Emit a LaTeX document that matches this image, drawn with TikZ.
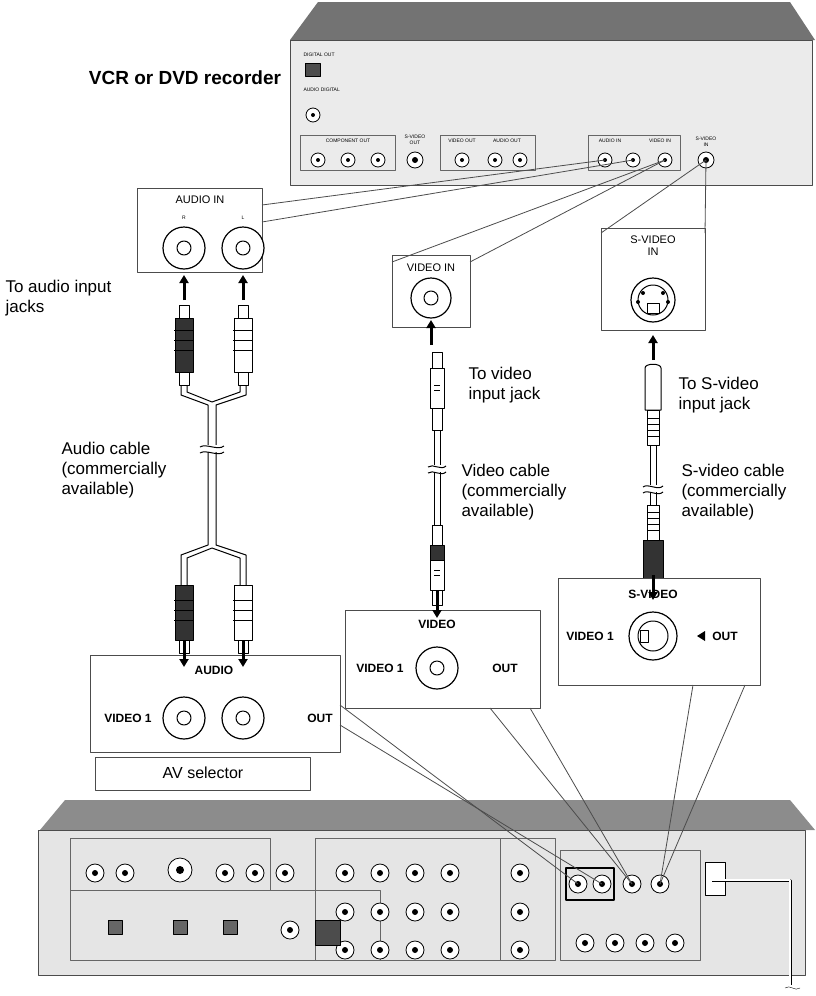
\documentclass[tikz,border=0pt]{standalone}
\usepackage{fontspec}
\setmainfont{Liberation Sans}
\usetikzlibrary{arrows.meta}
\begin{document}
\begin{tikzpicture}[x=1pt,y=-1pt,line join=round,
 box/.style={draw=black!70,fill=white,line width=0.9pt},
 lbl/.style={font=\fontsize{17}{20}\selectfont,align=left,anchor=west},
 sm/.style={font=\fontsize{11}{12}\selectfont},
 tiny/.style={font=\fontsize{5}{6}\selectfont},
 bl/.style={font=\bfseries\fontsize{12}{14}\selectfont},
 jack/.style={draw=black,line width=1.2pt,fill=white},
 link/.style={draw=black!70,line width=0.8pt},
 cab/.style={draw=black,line width=1pt},
 arr/.style={-{Triangle[length=8pt,width=9pt]},line width=3pt}]
\useasboundingbox (0,0) rectangle (815,996);
% ---- VCR ----
\fill[black!55] (318,2) -- (790,2) -- (815,40) -- (290,40) -- cycle;
\draw[black!70,fill=black!8] (290,40) rectangle (812,185);
\node[font=\bfseries\fontsize{19}{22}\selectfont] (vcrt) at (185,78) {VCR or DVD recorder};
\node[tiny,anchor=west] at (300,55) {DIGITAL OUT};
\draw[fill=black!70] (305,63) rectangle (320,76);
\node[tiny,anchor=west] at (300,90) {AUDIO DIGITAL};
\draw[jack,line width=0.8pt] (313,115) circle (7); \fill (313,115) circle (2);
\draw[black!60] (300,135) rectangle (395,170); \node[tiny] at (348,141) {COMPONENT OUT};
\foreach \x in {318,348,378}{\draw[jack,line width=0.8pt] (\x,160) circle (7);\fill (\x,160) circle(2);}
\node[tiny,align=center] at (415,140) {S-VIDEO\\OUT};
\draw[jack,line width=0.8pt] (415,160) circle (8);\fill (415,160) circle(3);
\draw[black!60] (440,135) rectangle (535,170);
\node[tiny] at (462,141) {VIDEO OUT};\node[tiny] at (507,141) {AUDIO OUT};
\foreach \x in {462,495,520}{\draw[jack,line width=0.8pt] (\x,160) circle (7);\fill (\x,160) circle(2);}
\draw[black!60] (588,135) rectangle (680,170);
\node[tiny] at (610,141) {AUDIO IN};\node[tiny] at (660,141) {VIDEO IN};
\foreach \x/\n in {605/vr,633/vl,665/vv}{\draw[jack,line width=0.8pt] (\x,160) circle (7);\fill (\x,160) circle(2);\coordinate (\n) at (\x,160);}
\node[tiny,align=center] at (706,142) {S-VIDEO\\IN};
\draw[jack,line width=0.8pt] (706,160) circle (8);\fill (706,160) circle(3);\coordinate (vs) at (706,160);
% ---- upper boxes ----
\draw[box] (137,188) rectangle (262,272);
\node[sm] at (200,200) {AUDIO IN};
\node[tiny] at (184,218) {R};\node[tiny] at (243,218) {L};
\foreach \x in {184,243}{\draw[jack] (\x,248) circle (21);\draw[line width=1pt] (\x,248) circle (7);}
\draw[link] (262,205) -- (vr); \draw[link] (262,222) -- (vl);
\draw[box] (392,255) rectangle (470,327);
\node[sm] at (431,268) {VIDEO IN};
\draw[jack] (431,298) circle (20);\draw[line width=1pt] (431,298) circle (7);
\draw[link] (392,262) -- (vv); \draw[link] (470,262) -- (vv);
\draw[box] (601,228) rectangle (705,330);
\node[sm,align=center] at (653,246) {S-VIDEO\\IN};
\draw[jack] (653,300) circle (22);\draw[line width=1pt] (653,300) circle (15);
\draw[line width=1pt] (647,303) rectangle (659,313);
\foreach \a/\b in {643/293,663/293,638/302,668/302}\fill (\a,\b) circle (2);
\draw[link] (601,233) -- (vs); \draw[link] (705,233) -- (vs);
% ---- arrows up ----
\foreach \x/\y in {184/300,243/300,431/345,653/360}\draw[arr] (\x,\y) -- (\x,\y-25);
% ---- audio cable ----
\foreach \x/\f in {184/black!80,243/white}{
 \draw[cab,fill=white] (\x-5,305) rectangle (\x+5,318);
 \draw[cab,fill=\f] (\x-9,318) rectangle (\x+9,372);
 \foreach \yy in {330,340,350}\draw[cab] (\x-10,\yy) -- (\x+10,\yy);
 \draw[cab,fill=white] (\x-5,372) rectangle (\x+5,385);
 \draw[cab,fill=\f] (\x-9,585) rectangle (\x+9,640);
 \foreach \yy in {600,610,620}\draw[cab] (\x-10,\yy) -- (\x+10,\yy);
 \draw[cab,fill=white] (\x-5,640) rectangle (\x+5,653);
}
\draw[cab] (181,385) -- (181,395) -- (208,405) -- (208,545) -- (181,555) -- (181,585);
\draw[cab] (187,385) -- (187,392) -- (212,402);
\draw[cab] (240,385) -- (240,392) -- (212,402);
\draw[cab] (246,385) -- (246,395) -- (216,405) -- (216,545) -- (246,555) -- (246,585);
\draw[cab] (187,585) -- (187,558) -- (212,548) -- (240,558) -- (240,585);
\fill[white] (200,445) rectangle (224,452);
\draw[cab] (200,447) .. controls (206,443) and (218,451) .. (224,446);
\draw[cab] (200,453) .. controls (206,449) and (218,457) .. (224,452);
% ---- video cable ----
\draw[cab,fill=white] (432,352) rectangle (442,368);
\draw[cab,fill=white] (430,368) rectangle (444,408);
\foreach \yy in {385,390}\draw[cab] (434,\yy) -- (440,\yy);
\draw[cab,fill=white] (432,408) rectangle (442,430);
\draw[cab] (434,430) -- (434,525); \draw[cab] (440,430) -- (440,525);
\draw[cab,fill=white] (432,525) rectangle (442,545);
\draw[cab,fill=black!80] (430,545) rectangle (444,560);
\draw[cab,fill=white] (430,560) rectangle (444,590);
\foreach \yy in {570,575}\draw[cab] (434,\yy) -- (440,\yy);
\draw[cab,fill=white] (432,590) rectangle (442,605);
\fill[white] (428,465) rectangle (446,472);
\draw[cab] (428,467) .. controls (433,463) and (441,471) .. (446,466);
\draw[cab] (428,473) .. controls (433,469) and (441,477) .. (446,472);
% ---- S-video cable ----
\draw[cab,fill=white] (645,368) .. controls (645,363) and (661,363) .. (661,368) -- (661,410) -- (645,410) -- cycle;
\draw[cab,fill=white] (647,410) rectangle (659,445);
\foreach \yy in {418,424,430,436}\draw[cab] (647,\yy) -- (659,\yy);
\draw[cab] (650,445) -- (650,505); \draw[cab] (656,445) -- (656,505);
\draw[cab,fill=white] (647,505) rectangle (659,540);
\foreach \yy in {512,518,524,530}\draw[cab] (647,\yy) -- (659,\yy);
\draw[cab,fill=black!80] (643,540) -- (663,540) -- (663,580) -- (643,580) -- cycle;
\draw[cab,fill=white] (649,580) rectangle (657,590);
\fill[white] (643,485) rectangle (663,492);
\draw[cab] (643,487) .. controls (648,483) and (658,491) .. (663,486);
\draw[cab] (643,493) .. controls (648,489) and (658,497) .. (663,492);
% ---- labels ----
\node[lbl] at (2,298) {To audio input\\jacks};
\node[lbl] at (58,470) {Audio cable\\(commercially\\available)};
\node[lbl] at (465,385) {To video\\input jack};
\node[lbl] at (458,492) {Video cable\\(commercially\\available)};
\node[lbl] at (675,395) {To S-video\\input jack};
\node[lbl] at (678,492) {S-video cable\\(commercially\\available)};
% ---- lower boxes ----
\draw[box] (90,655) rectangle (340,752);
\node[bl] at (214,670) {AUDIO};
\node[bl] at (128,718) {VIDEO 1};
\node[bl] at (320,718) {OUT};
\foreach \x in {184,243}{\draw[jack] (\x,718) circle (21);\draw[line width=1pt] (\x,718) circle (7);}
\draw[box] (345,610) rectangle (540,708);
\node[bl] at (437,624) {VIDEO};
\node[bl] at (380,668) {VIDEO 1};
\node[bl] at (505,668) {OUT};
\draw[jack] (437,668) circle (21);\draw[line width=1pt] (437,668) circle (7);
\draw[box] (558,578) rectangle (760,685);
\node[bl] at (653,594) {S-VIDEO};
\node[bl] at (590,636) {VIDEO 1};
\node[bl] at (725,636) {OUT};
\fill (697,636) -- (705,631) -- (705,641) -- cycle;
\draw[jack] (653,636) circle (24);\draw[line width=1pt] (653,636) circle (15);
\draw[line width=1pt] (640,630) rectangle (648,642);
\foreach \x in {184,243}\draw[arr] (\x,640) -- (\x,667);
\draw[arr] (437,590) -- (437,618); \draw[arr] (653,575) -- (653,600);
\draw[box,line width=0.7pt] (95,757) rectangle (310,790);
\node[font=\fontsize{16}{18}\selectfont] at (203,773) {AV selector};
% ---- main unit ----
\fill[black!45] (65,800) -- (790,800) -- (815,830) -- (40,830) -- cycle;
\draw[black!70,fill=black!10] (38,830) rectangle (805,975);
\draw[black!60] (70,838) rectangle (270,890);
\draw[black!60] (70,890) rectangle (380,960);
\draw[black!60] (315,838) rectangle (500,960);
\draw[black!60] (500,838) rectangle (555,960);
\draw[black!60] (560,850) rectangle (700,960);
\foreach \y in {873,912,950}\foreach \x in {345,380,415,450,520}{\draw[jack,line width=0.8pt] (\x,\y) circle (9);\fill (\x,\y) circle(3);}
\foreach \x in {95,125,225,255,285}{\draw[jack,line width=0.8pt] (\x,873) circle (9);\fill (\x,873) circle(3);}
\draw[jack,line width=0.8pt] (180,870) circle (12);\fill (180,870) circle(4);
\foreach \x in {578,602,632,660}{\draw[jack,line width=0.8pt] (\x,884) circle (9);\fill (\x,884) circle(3);}
\foreach \x in {585,615,645,675}{\draw[jack,line width=0.8pt] (\x,943) circle (9);\fill (\x,943) circle(3);}
\draw[black,line width=1.5pt] (566,868) rectangle (614,900);
\foreach \x in {115,180,230}\draw[fill=black!60] (\x-7,920) rectangle (\x+7,934);
\draw[jack,line width=0.8pt] (290,930) circle (9);\fill (290,930) circle(3);
\draw[fill=black!70] (315,920) rectangle (340,945);
\draw[fill=white] (705,862) rectangle (725,895);
\draw[line width=3pt] (712,880) -- (790,880) -- (790,985);
\draw[line width=1.8pt,white] (712,880) -- (790,880) -- (790,985);
\draw[black] (785,988) .. controls (790,984) and (795,992) .. (800,988);
% links to main unit
\coordinate (ma) at (578,884); \coordinate (mb) at (602,884);
\coordinate (mv) at (632,884); \coordinate (ms) at (660,884);
\draw[link] (340,705) -- (ma); \draw[link] (340,725) -- (mb);
\draw[link] (490,708) -- (mv); \draw[link] (530,708) -- (mv);
\draw[link] (693,685) -- (ms); \draw[link] (745,685) -- (ms);
\end{tikzpicture}
\end{document}
